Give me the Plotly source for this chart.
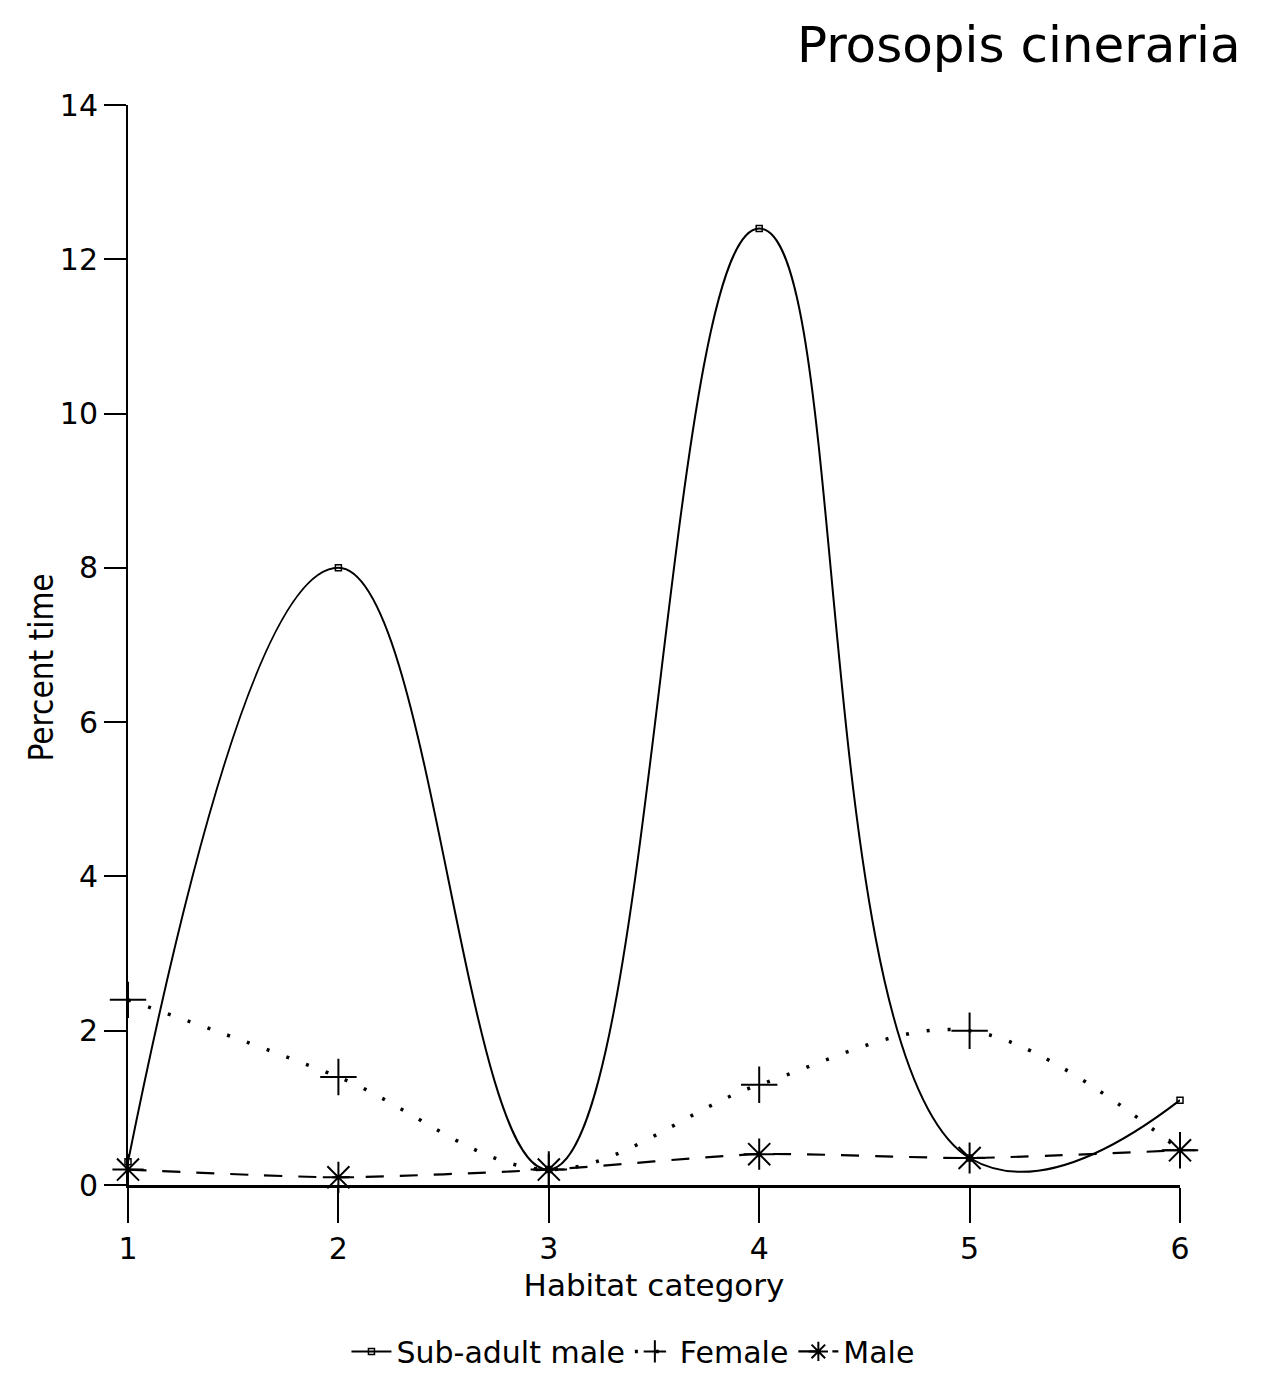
import plotly.graph_objects as go

categories = [1, 2, 3, 4, 5, 6]
tick_labels = ["1", "2", "3", "4", "5", "6"]
sub_adult_male = [0.3, 8.0, 0.2, 12.4, 0.35, 1.1]
female = [2.4, 1.4, 0.2, 1.3, 2.0, 0.45]
male = [0.2, 0.1, 0.2, 0.4, 0.35, 0.45]
y_ticks = [0, 2, 4, 6, 8, 10, 12, 14]

FONT = "DejaVu Sans, Arial, sans-serif"

fig = go.Figure()
fig.add_trace(go.Scatter(
    x=categories, y=sub_adult_male, name="Sub-adult male",
    mode="lines+markers", line=dict(color="black", width=2, shape="spline", smoothing=1.3),
    marker=dict(symbol="square-open", size=6, color="black", line=dict(width=1.5)),
    cliponaxis=False))
fig.add_trace(go.Scatter(
    x=categories, y=female, name="Female",
    mode="lines+markers", line=dict(color="black", width=3.5, dash="3px,18px", shape="spline", smoothing=1.0),
    marker=dict(symbol="cross-thin-open", size=26, color="black", line=dict(width=2, color="black")),
    cliponaxis=False))
fig.add_trace(go.Scatter(
    x=categories, y=male, name="Male",
    mode="lines+markers", line=dict(color="black", width=2.2, dash="18px,16px", shape="spline", smoothing=0.6),
    marker=dict(symbol="asterisk-open", size=26, color="black", line=dict(width=2, color="black")),
    cliponaxis=False))

fig.update_layout(
    width=1262, height=1400,
    margin=dict(l=128, r=82, t=105, b=215),
    paper_bgcolor="white", plot_bgcolor="white",
    font=dict(family=FONT, color="black", size=30),
    title=dict(text="Prosopis cineraria", x=0.983, xanchor="right", y=0.968, yanchor="middle",
               font=dict(size=50, family=FONT, color="black")),
    showlegend=True,
    legend=dict(orientation="h", x=0.48, xanchor="center", y=-0.13, yanchor="top",
                font=dict(size=30, family=FONT), itemwidth=40, tracegroupgap=0),
    annotations=[dict(text="Percent time", xref="paper", yref="paper", x=-0.082, y=0.479,
                      xanchor="center", yanchor="middle", textangle=-90, showarrow=False,
                      font=dict(size=33, family="DejaVu Sans Condensed, DejaVu Sans, Arial", color="black"))],
)
fig.update_xaxes(
    range=[1, 6], tickvals=categories, ticktext=tick_labels,
    showgrid=False, zeroline=False, showline=True, linecolor="black", linewidth=2.5,
    ticks="outside", ticklen=35, tickwidth=2, tickcolor="black",
    tickfont=dict(size=30, family=FONT),
    title=dict(text="Habitat category", font=dict(size=31, family=FONT), standoff=10),
)
fig.update_yaxes(
    range=[0, 14], tickvals=y_ticks,
    showgrid=False, zeroline=False, showline=True, linecolor="black", linewidth=2,
    ticks="outside", ticklen=22, tickwidth=2, tickcolor="black",
    tickfont=dict(size=30, family=FONT),
)

fig.write_html("out.html")
